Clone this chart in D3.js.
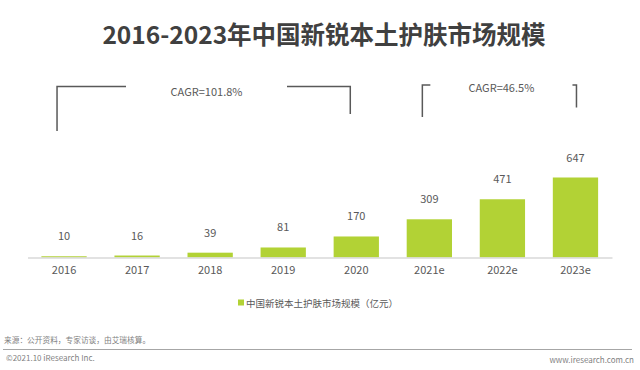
<!DOCTYPE html>
<html>
<head>
<meta charset="utf-8">
<script src="https://cdn.jsdelivr.net/npm/d3@7"></script>
<style>
  body { margin: 0; background: #fff; }
  text { font-family: "Noto Sans CJK SC", "Noto Sans", sans-serif; }
</style>
</head>
<body>
<div id="chart"></div>
<script>
// data
var years = ["2016", "2017", "2018", "2019", "2020", "2021e", "2022e", "2023e"];
var sizes = [10, 16, 39, 81, 170, 309, 471, 647];
var cagrText = ["CAGR=101.8%", "CAGR=46.5%"];
var cagrFrom = ["2016", "2021e"];
var cagrTo = ["2020", "2023e"];

var width = 640, height = 370;
var barColor = "#b2d235";
var textColor = "#595959";

var svg = d3.select("#chart")
    .append("svg")
    .attr("width", width)
    .attr("height", height);

// title
svg.append("text")
    .attr("x", 324)
    .attr("y", 44)
    .attr("text-anchor", "middle")
    .attr("font-size", "24.5px")
    .attr("font-weight", "bold")
    .attr("fill", "#404040")
    .text("2016-2023年中国新锐本土护肤市场规模");

var x = d3.scaleBand()
    .domain(years)
    .range([27.5, 612])
    .paddingInner(0.38)
    .paddingOuter(0.19);

var y = d3.scaleLinear()
    .domain([0, 647])
    .range([257.5, 177.5]);

// bars
svg.selectAll("rect.bar")
    .data(years)
    .enter()
    .append("rect")
    .attr("class", "bar")
    .attr("x", function (d) { return x(d); })
    .attr("y", function (d, i) { return y(sizes[i]); })
    .attr("width", x.bandwidth())
    .attr("height", function (d, i) { return y(0) - y(sizes[i]); })
    .attr("fill", barColor);

// x axis
var xAxis = svg.append("g")
    .attr("transform", "translate(0," + y(0) + ")")
    .call(d3.axisBottom(x).tickSize(0).tickSizeOuter(0).tickPadding(9));
xAxis.select(".domain").attr("stroke", "#d9d9d9").attr("stroke-width", 1.5);
xAxis.selectAll("text")
    .attr("font-size", "11px")
    .attr("fill", textColor)
    .style("font-family", "\"Noto Sans CJK SC\", \"Noto Sans\", sans-serif");

// value labels
svg.selectAll("text.val")
    .data(years)
    .enter()
    .append("text")
    .attr("class", "val")
    .attr("x", function (d) { return x(d) + x.bandwidth() / 2; })
    .attr("y", function (d, i) { return y(sizes[i]) - 16; })
    .attr("text-anchor", "middle")
    .attr("font-size", "11px")
    .attr("fill", textColor)
    .text(function (d, i) { return sizes[i]; });

// CAGR brackets
var bracketTop = 86.5;
cagrText.forEach(function (t, i) {
    var x0 = x(cagrFrom[i]) + x.bandwidth() / 2 - 7;
    var x1 = x(cagrTo[i]) + x.bandwidth() / 2 + (i == 0 ? -6 : 1);
    var mid = (x0 + x1) / 2;
    var g = svg.append("g")
        .attr("fill", "none")
        .attr("stroke", "#595959")
        .attr("stroke-width", 1.5);
    if (i == 0) {
        g.append("path").attr("d", "M" + x0 + "," + 131 + "V" + bracketTop + "H" + 126);
        g.append("path").attr("d", "M" + 287 + "," + bracketTop + "H" + x1 + "V" + 114);
        svg.append("text")
            .attr("x", 206.5)
            .attr("y", bracketTop + 9)
            .attr("text-anchor", "middle")
            .attr("font-size", "11px")
            .attr("fill", textColor)
            .text(t);
    } else {
        g.append("path").attr("d", "M" + x0 + "," + 117 + "V" + 85 + "H" + (x0 + 8));
        g.append("path").attr("d", "M" + (x1 - 4) + "," + 85 + "H" + x1 + "V" + 107.5);
        svg.append("text")
            .attr("x", mid + 2)
            .attr("y", 92)
            .attr("text-anchor", "middle")
            .attr("font-size", "11px")
            .attr("fill", textColor)
            .text(t);
    }
});

// legend
svg.append("rect")
    .attr("x", 238)
    .attr("y", 299.5)
    .attr("width", 6)
    .attr("height", 6)
    .attr("fill", barColor);
svg.append("text")
    .attr("x", 246)
    .attr("y", 306.5)
    .attr("font-size", "9.5px")
    .attr("fill", textColor)
    .text("中国新锐本土护肤市场规模（亿元）");

// footer
svg.append("text")
    .attr("x", 4)
    .attr("y", 343)
    .attr("font-size", "7.7px")
    .attr("fill", "#7f7f7f")
    .text("来源：公开资料，专家访谈，由艾瑞核算。");
svg.append("line")
    .attr("x1", 3).attr("x2", 632)
    .attr("y1", 349.5).attr("y2", 349.5)
    .attr("stroke", "#a6a6a6")
    .attr("stroke-width", 1);
svg.append("text")
    .attr("x", 6)
    .attr("y", 361)
    .attr("font-size", "8px")
    .attr("fill", "#7f7f7f")
    .text("©2021.10 iResearch Inc.");
svg.append("text")
    .attr("x", 634)
    .attr("y", 363)
    .attr("text-anchor", "end")
    .attr("font-size", "8px")
    .attr("fill", "#7f7f7f")
    .text("www.iresearch.com.cn");
</script>
</body>
</html>
